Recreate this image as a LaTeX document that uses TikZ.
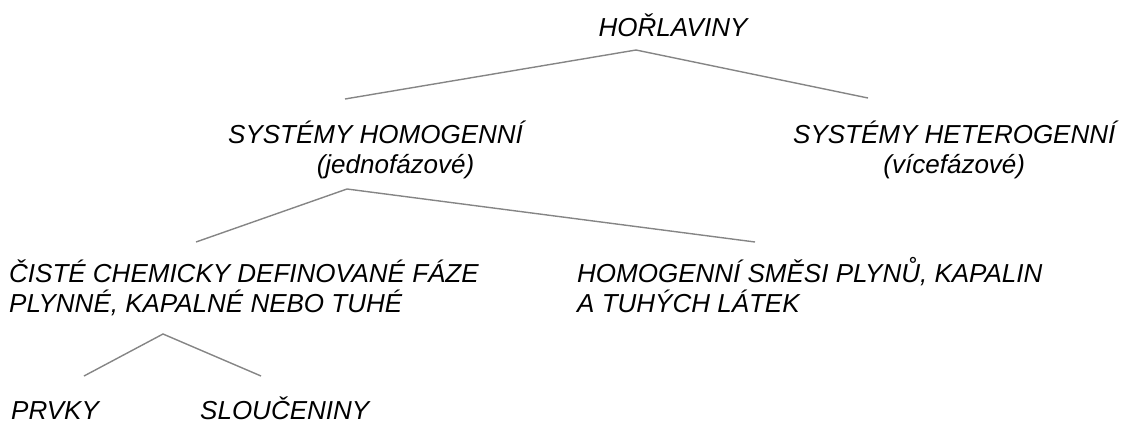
\documentclass[tikz,border=0pt]{standalone}
\usepackage{fontspec}
\setmainfont{Liberation Sans}
\begin{document}
\begin{tikzpicture}[x=1pt,y=-1pt,
  lbl/.style={inner sep=0pt, font=\fontsize{26}{30}\selectfont\itshape},
  link/.style={draw=black!48, line width=1.4pt}]
\useasboundingbox (0,0) rectangle (1126,426);

% labels (multi-line nodes are placed by the baseline of their last line)
\node[lbl, anchor=base] (root) at (673,36) {HOŘLAVINY};
\node[lbl, align=center, anchor=base west] (homo) at (228,173) {SYSTÉMY HOMOGENNÍ\\\hspace*{40pt}(jednofázové)};
\node[lbl, align=center, anchor=base west] (hetero) at (793,173) {SYSTÉMY HETEROGENNÍ\\(vícefázové)};
\node[lbl, align=left, anchor=base west] (pure) at (9,312) {ČISTÉ CHEMICKY DEFINOVANÉ FÁZE\\PLYNNÉ, KAPALNÉ NEBO TUHÉ};
\node[lbl, align=left, anchor=base west] (mix) at (577,312) {HOMOGENNÍ SMĚSI PLYNŮ, KAPALIN\\A TUHÝCH LÁTEK};
\node[lbl, anchor=base west] (prvky) at (11,419) {PRVKY};
\node[lbl, anchor=base west] (slouc) at (200,419) {SLOUČENINY};

% branch points
\coordinate (rootfork) at (636,50);
\coordinate (homoin) at (345,99);
\coordinate (heteroin) at (868,98);
\coordinate (homofork) at (347,189);
\coordinate (purein) at (196,242);
\coordinate (mixin) at (755,242);
\coordinate (purefork) at (163,334);
\coordinate (prvkyin) at (84,376);
\coordinate (sloucin) at (261,376);

% connectors
\draw[link] (homoin) -- (rootfork) -- (heteroin);
\draw[link] (purein) -- (homofork) -- (mixin);
\draw[link] (prvkyin) -- (purefork) -- (sloucin);
\end{tikzpicture}
\end{document}
